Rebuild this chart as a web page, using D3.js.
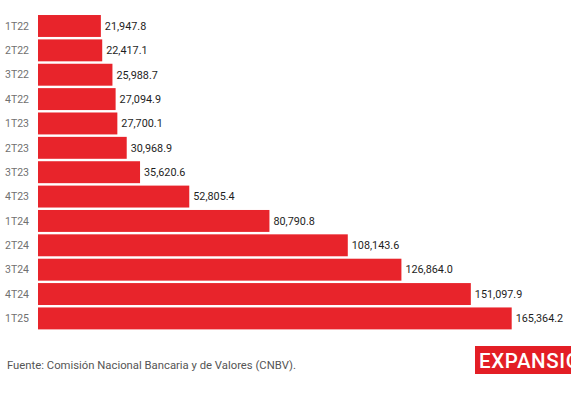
<!DOCTYPE html>
<html><head><meta charset="utf-8">
<script src="https://cdn.jsdelivr.net/npm/d3@7"></script>
<style>body{margin:0;background:#fff;}svg{display:block;}</style>
</head><body>
<script>
const categories = ["1T22","2T22","3T22","4T22","1T23","2T23","3T23","4T23","1T24","2T24","3T24","4T24","1T25"];
const values = [21947.8,22417.1,25988.7,27094.9,27700.1,30968.9,35620.6,52805.4,80790.8,108143.6,126864.0,151097.9,165364.2];
const source = "Fuente: Comisión Nacional Bancaria y de Valores (CNBV).";
const brand = "EXPANSIÓN";

const W = 571, H = 395;
const svg = d3.select("body").append("svg").attr("width", W).attr("height", H);

const x = d3.scaleLinear().domain([0, 165364.2]).range([38, 511.7]);
const y = d3.scaleBand().domain(categories).range([13.8, 330.6]).paddingInner(0.1).paddingOuter(0.05);

const fmt = d3.format(",.1f");

svg.selectAll("rect.bar").data(values).join("rect")
  .attr("class","bar")
  .attr("x", x(0))
  .attr("y", (d,i)=>y(categories[i]))
  .attr("width", d=>x(d)-x(0))
  .attr("height", y.bandwidth())
  .attr("fill", "#e8242b");

svg.selectAll("text.cat").data(categories).join("text")
  .attr("class","cat")
  .attr("x", 5)
  .attr("y", d=>y(d)+y.bandwidth()/2)
  .attr("dy","0.35em")
  .attr("font-family","Roboto, sans-serif")
  .attr("font-size", 10.5)
  .attr("fill","#707070")
  .text(d=>d);

svg.selectAll("text.val").data(values).join("text")
  .attr("class","val")
  .attr("x", d=>x(d)+4)
  .attr("y", (d,i)=>y(categories[i])+y.bandwidth()/2)
  .attr("dy","0.35em")
  .attr("font-family","Roboto, sans-serif")
  .attr("font-size", 10.8)
  .attr("fill","#1e1e1e")
  .text(d=>fmt(d));

svg.append("text")
  .attr("x", 7).attr("y", 369)
  .attr("font-family","Roboto, sans-serif")
  .attr("font-size", 11.3)
  .attr("fill","#555")
  .text(source);

svg.append("rect").attr("x",475).attr("y",346).attr("width",100).attr("height",28).attr("fill","#e31e25");
svg.append("text")
  .attr("x", 479).attr("y", 367.5)
  .attr("font-family","Roboto, sans-serif")
  .attr("font-size", 20.5)
  .attr("font-weight", 500)
  .attr("letter-spacing", 0.6)
  .attr("fill","#fff")
  .text(brand);
</script>
</body></html>
